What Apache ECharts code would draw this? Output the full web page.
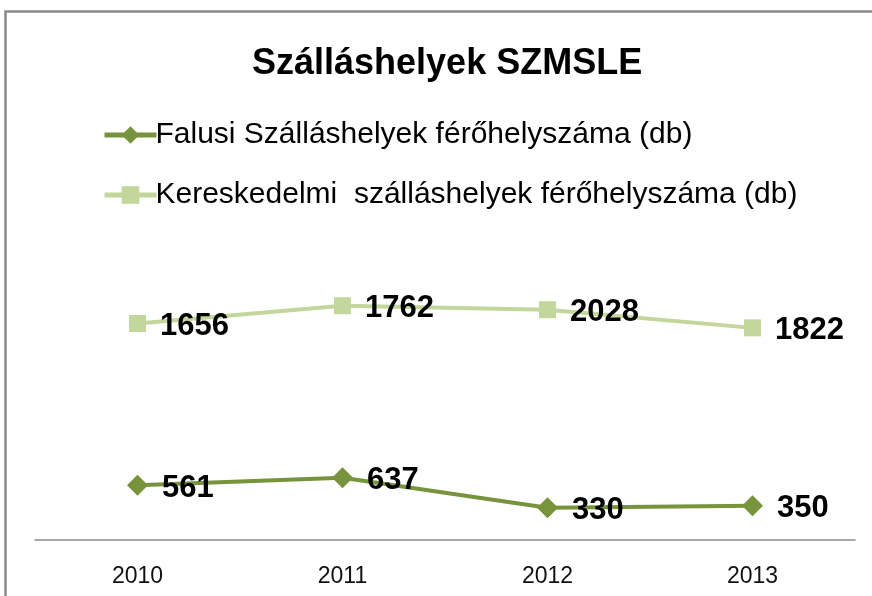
<!DOCTYPE html>
<html>
<head>
<meta charset="utf-8">
<script src="https://cdn.jsdelivr.net/npm/echarts@6/dist/echarts.min.js"></script>
<style>
  html, body { margin: 0; padding: 0; background: #fff; }
  #chart { width: 872px; height: 596px; }
</style>
</head>
<body>
<div id="chart"></div>
<script>
var years = ['2010', '2011', '2012', '2013'];
var falusi = [561, 637, 330, 350];
var kereskedelmi = [1656, 1762, 2028, 1822];

var chart = echarts.init(document.getElementById('chart'), null, { renderer: 'canvas' });

var labelStyle = {
    show: true,
    position: 'right',
    distance: 14,
    offset: [0, 3],
    color: '#000',
    fontFamily: 'Liberation Sans',
    fontWeight: 'bold',
    fontSize: 31
};

chart.setOption({
    animation: false,
    backgroundColor: '#fff',
    title: {
        text: 'Szálláshelyek SZMSLE',
        left: 247,
        top: 41,
        textStyle: {
            fontFamily: 'Liberation Sans',
            fontWeight: 'bold',
            fontSize: 36,
            color: '#000'
        }
    },
    legend: {
        orient: 'vertical',
        left: 97,
        top: 115,
        itemGap: 30,
        itemWidth: 52,
        itemHeight: 22,
        textStyle: {
            fontFamily: 'Liberation Sans',
            fontSize: 30,
            color: '#000',
            padding: [0, 0, 0, -6]
        },
        data: [
            { name: 'Falusi Szálláshelyek férőhelyszáma (db)', lineStyle: { width: 5 } },
            { name: 'Kereskedelmi  szálláshelyek férőhelyszáma (db)', lineStyle: { width: 5 } }
        ]
    },
    grid: {
        left: 35,
        right: 17,
        top: 247,
        bottom: 56
    },
    xAxis: {
        type: 'category',
        data: years,
        boundaryGap: true,
        axisLine: { lineStyle: { color: '#8c8c8c', width: 1.5 } },
        axisTick: { show: false },
        axisLabel: {
            margin: 25,
            fontFamily: 'Liberation Sans',
            fontSize: 23,
            color: '#111'
        }
    },
    yAxis: {
        type: 'value',
        min: 0,
        max: 3000,
        show: false,
        splitLine: { show: false }
    },
    series: [
        {
            name: 'Falusi Szálláshelyek férőhelyszáma (db)',
            type: 'line',
            stack: 'total',
            data: falusi,
            symbol: 'diamond',
            symbolSize: 21,
            lineStyle: { color: '#77933C', width: 4 },
            itemStyle: { color: '#77933C' },
            label: labelStyle
        },
        {
            name: 'Kereskedelmi  szálláshelyek férőhelyszáma (db)',
            type: 'line',
            stack: 'total',
            data: kereskedelmi,
            symbol: 'rect',
            symbolSize: 17,
            lineStyle: { color: '#C3D69B', width: 4 },
            itemStyle: { color: '#C3D69B' },
            label: labelStyle
        }
    ],
    graphic: [{
        type: 'rect',
        left: 3,
        top: 9,
        shape: { width: 900, height: 700 },
        style: { fill: 'none', stroke: '#8a8a8a', lineWidth: 2.5 },
        silent: true
    }]
});
</script>
</body>
</html>
